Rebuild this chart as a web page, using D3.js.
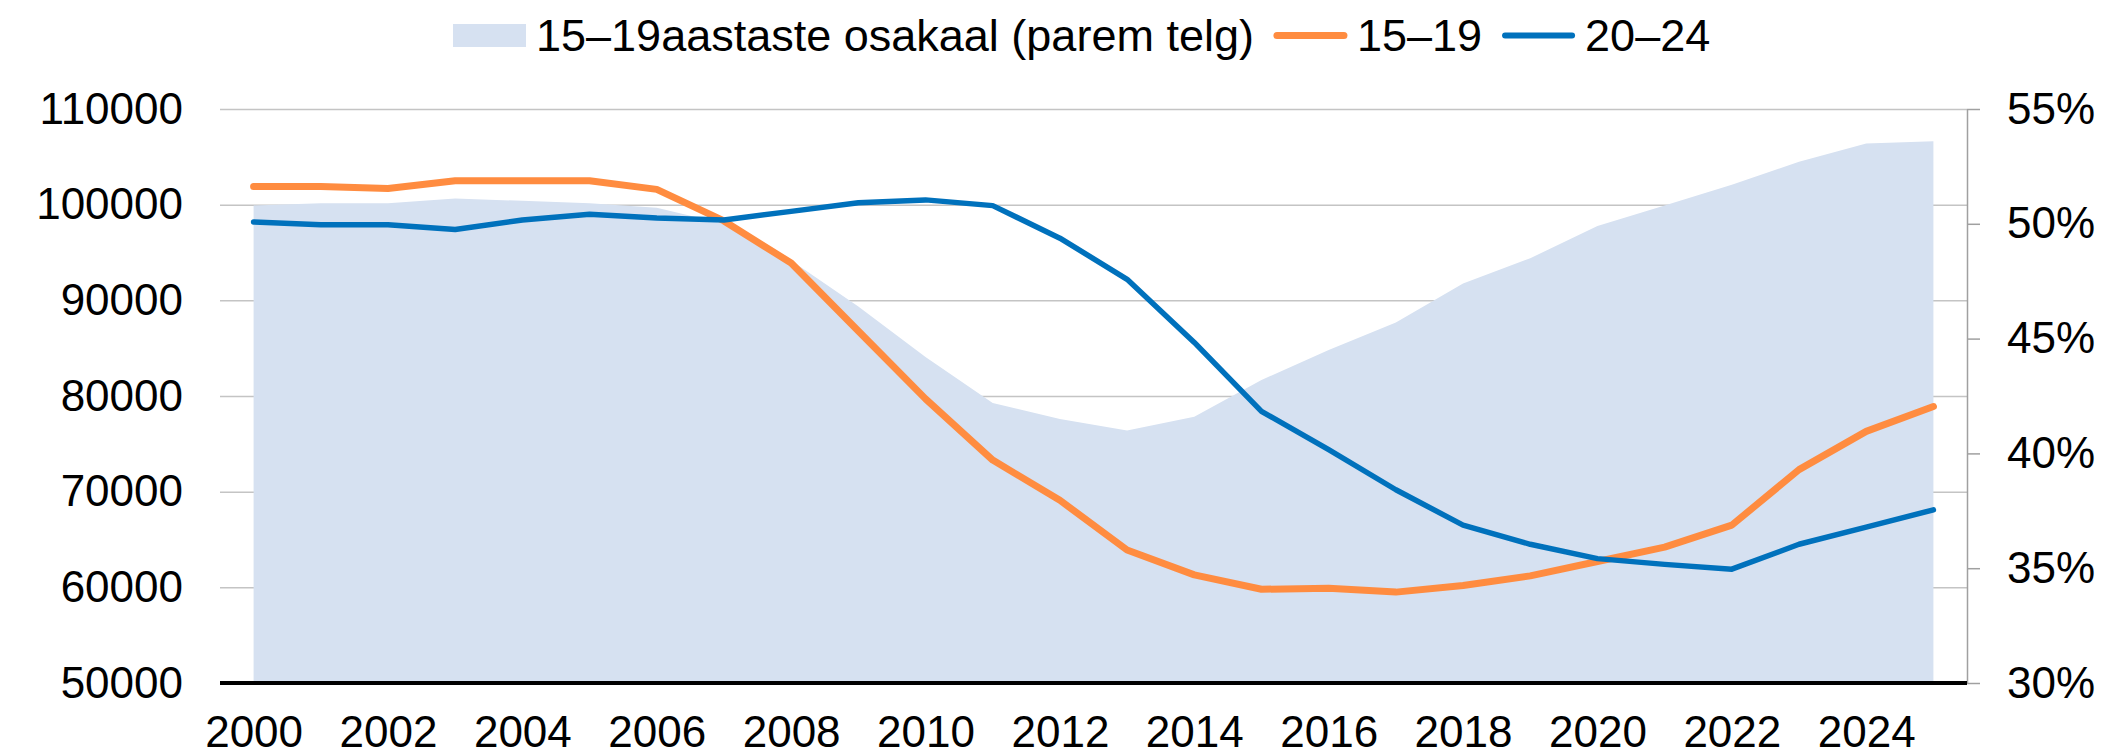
<!DOCTYPE html>
<html>
<head>
<meta charset="utf-8">
<script src="https://cdn.jsdelivr.net/npm/d3@7"></script>
<style>
  body { margin: 0; background: #fff; }
  svg { display: block; font-family: "Liberation Sans", Arial, sans-serif; }
</style>
</head>
<body>
<div id="chart"></div>
<script>
// years on the x axis
const years = [2000, 2001, 2002, 2003, 2004, 2005, 2006, 2007, 2008, 2009, 2010, 2011, 2012,
  2013, 2014, 2015, 2016, 2017, 2018, 2019, 2020, 2021, 2022, 2023, 2024, 2025];

// 15–19 year olds (left axis)
const teen = [101900, 101900, 101700, 102500, 102500, 102500, 101600, 98300, 93900, 86800, 79700,
  73300, 69100, 63900, 61300, 59800, 59900, 59500, 60200, 61200, 62700, 64200, 66500, 72300, 76300, 78900];

// 20–24 year olds (left axis)
const young = [98200, 97900, 97900, 97400, 98400, 99000, 98600, 98400, 99300, 100200, 100500,
  99900, 96500, 92200, 85600, 78400, 74400, 70200, 66500, 64500, 63000, 62400, 61900, 64500, 66300, 68100];

// share of 15–19 year olds, % (right axis)
const share = [50.8, 50.9, 50.9, 51.1, 51.0, 50.9, 50.7, 50.0, 48.4, 46.4, 44.2, 42.2, 41.5,
  41.0, 41.6, 43.2, 44.5, 45.7, 47.4, 48.5, 49.9, 50.8, 51.7, 52.7, 53.5, 53.6];

const leftTicks = [50000, 60000, 70000, 80000, 90000, 100000, 110000];
const rightTicks = [30, 35, 40, 45, 50, 55];
const yearTicks = years.filter(function (y) { return y % 2 === 0; });

const legendItems = [
  { label: '15\u201319aastaste osakaal (parem telg)', type: 'area' },
  { label: '15\u201319', type: 'line', color: '#ff8c40' },
  { label: '20\u201324', type: 'line', color: '#0071bc' }
];

const width = 2107;
const height = 756;
const plot = { left: 220, right: 1967, top: 109, bottom: 683 };
const fontSize = 44;

const svg = d3.select('#chart')
  .append('svg')
  .attr('width', width)
  .attr('height', height)
  .attr('viewBox', '0 0 ' + width + ' ' + height);

const x = d3.scalePoint()
  .domain(years)
  .range([plot.left, plot.right])
  .padding(0.5);

const yLeft = d3.scaleLinear()
  .domain([50000, 110000])
  .range([plot.bottom, plot.top]);

const yRight = d3.scaleLinear()
  .domain([30, 55])
  .range([plot.bottom, plot.top]);

// Left axis: labels plus the horizontal gridlines
const gLeft = svg.append('g')
  .attr('transform', 'translate(' + plot.left + ',0)')
  .call(d3.axisLeft(yLeft)
    .tickValues(leftTicks)
    .tickSize(-(plot.right - plot.left))
    .tickPadding(37)
    .tickFormat(d3.format('d')));
gLeft.select('.domain').remove();
gLeft.selectAll('.tick line')
  .attr('stroke', '#c4c4c4')
  .attr('stroke-width', 1.5);
gLeft.selectAll('.tick text')
  .attr('font-size', fontSize)
  .attr('font-family', '"Liberation Sans", Arial, sans-serif')
  .attr('fill', '#000');

// Share area on the right axis scale
const area = d3.area()
  .x(function (d, i) { return x(years[i]); })
  .y0(plot.bottom)
  .y1(function (d) { return yRight(d); });

svg.append('path')
  .datum(share)
  .attr('d', area)
  .attr('fill', '#d6e1f1');

// Right axis
const gRight = svg.append('g')
  .attr('transform', 'translate(' + plot.right + ',0)')
  .call(d3.axisRight(yRight)
    .tickValues(rightTicks)
    .tickSize(13)
    .tickSizeOuter(0)
    .tickPadding(27)
    .tickFormat(function (d) { return d + '%'; }));
gRight.select('.domain')
  .attr('stroke', '#a0a0a0')
  .attr('stroke-width', 1.5);
gRight.selectAll('.tick line')
  .attr('stroke', '#a0a0a0')
  .attr('stroke-width', 1.5);
gRight.selectAll('.tick text')
  .attr('font-size', fontSize)
  .attr('font-family', '"Liberation Sans", Arial, sans-serif')
  .attr('fill', '#000');

// Bottom axis (year labels)
const gBottom = svg.append('g')
  .attr('transform', 'translate(0,' + plot.bottom + ')')
  .call(d3.axisBottom(x)
    .tickValues(yearTicks)
    .tickSize(0)
    .tickPadding(33));
gBottom.select('.domain').remove();
gBottom.selectAll('.tick text')
  .attr('font-size', fontSize)
  .attr('font-family', '"Liberation Sans", Arial, sans-serif')
  .attr('fill', '#000');

// thick black baseline
svg.append('line')
  .attr('x1', plot.left)
  .attr('x2', plot.right)
  .attr('y1', yLeft(50000))
  .attr('y2', yLeft(50000))
  .attr('stroke', '#000')
  .attr('stroke-width', 4);

// The two lines
const line = d3.line()
  .x(function (d, i) { return x(years[i]); })
  .y(function (d) { return yLeft(d); });

svg.append('path')
  .datum(teen)
  .attr('d', line)
  .attr('fill', 'none')
  .attr('stroke', '#ff8c40')
  .attr('stroke-width', 7)
  .attr('stroke-linejoin', 'round')
  .attr('stroke-linecap', 'round');

svg.append('path')
  .datum(young)
  .attr('d', line)
  .attr('fill', 'none')
  .attr('stroke', '#0071bc')
  .attr('stroke-width', 5.5)
  .attr('stroke-linejoin', 'round')
  .attr('stroke-linecap', 'round');

// Legend, laid out left to right
const legend = svg.append('g').attr('class', 'legend');
let lx = 453;
legendItems.forEach(function (item) {
  if (item.type === 'area') {
    legend.append('rect')
      .attr('x', lx)
      .attr('y', 24)
      .attr('width', 73)
      .attr('height', 23)
      .attr('fill', '#d6e1f1');
  } else {
    legend.append('line')
      .attr('x1', lx + 3)
      .attr('x2', lx + 70)
      .attr('y1', 35.5)
      .attr('y2', 35.5)
      .attr('stroke', item.color)
      .attr('stroke-width', item.color === '#ff8c40' ? 7 : 6)
      .attr('stroke-linecap', 'round');
  }
  const t = legend.append('text')
    .attr('x', lx + 83)
    .attr('y', 51)
    .attr('font-size', 45)
    .attr('fill', '#000')
    .text(item.label);
  lx = lx + 83 + t.node().getComputedTextLength() + 20;
});
</script>
</body>
</html>
